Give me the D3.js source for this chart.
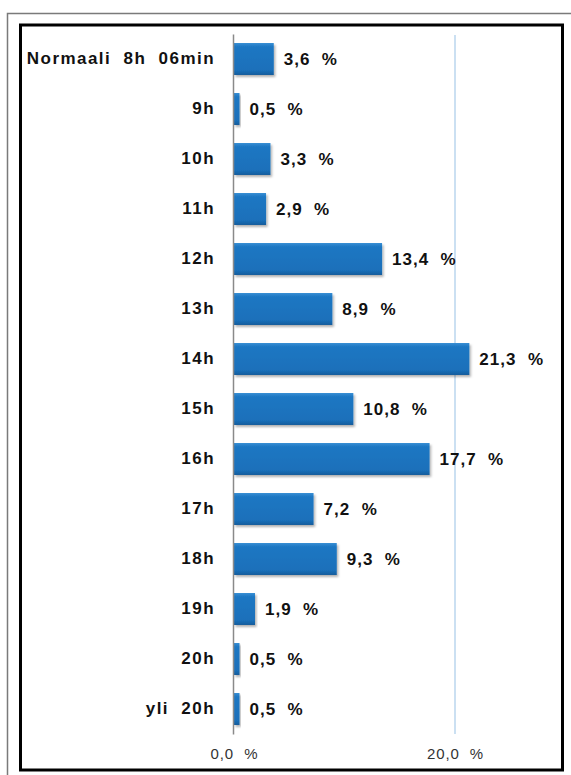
<!DOCTYPE html>
<html>
<head>
<meta charset="utf-8">
<script src="https://cdn.jsdelivr.net/npm/d3@7"></script>
<style>
  html, body { margin: 0; padding: 0; background: #fff; }
  svg { display: block; }
  text { font-family: "Liberation Sans", Arial, sans-serif; }
</style>
</head>
<body>
<svg id="chart" width="571" height="775"></svg>
<script>
// Sleep-length categories and share of respondents (%)
const categories = ["Normaali  8h  06min", "9h", "10h", "11h", "12h", "13h", "14h",
  "15h", "16h", "17h", "18h", "19h", "20h", "yli  20h"];
const values = [3.6, 0.5, 3.3, 2.9, 13.4, 8.9, 21.3, 10.8, 17.7, 7.2, 9.3, 1.9, 0.5, 0.5];
const tickValues = [0, 20];

const fmt = v => d3.format(".1f")(v).replace(".", ",") + "  %";

const svg = d3.select("#chart");

// frames
svg.append("path")
  .attr("d", "M7.5,775 V13.5 H571")
  .attr("fill", "none").attr("stroke", "#7a7a7a").attr("stroke-width", 1.5);
svg.append("rect")
  .attr("x", 20.5).attr("y", 25).attr("width", 542).attr("height", 745)
  .attr("fill", "#fff").attr("stroke", "#000").attr("stroke-width", 3);

const defs = svg.append("defs");
const grad = defs.append("linearGradient").attr("id", "barFill")
  .attr("x1", 0).attr("y1", 0).attr("x2", 0).attr("y2", 1);
grad.append("stop").attr("offset", "0%").attr("stop-color", "#3a8fd4");
grad.append("stop").attr("offset", "12%").attr("stop-color", "#1d77c3");
grad.append("stop").attr("offset", "85%").attr("stop-color", "#1a70ba");
grad.append("stop").attr("offset", "100%").attr("stop-color", "#145c9c");
const shadow = defs.append("filter").attr("id", "barShadow")
  .attr("x", "-5%").attr("y", "-10%").attr("width", "115%").attr("height", "140%");
shadow.append("feDropShadow").attr("dx", 1.5).attr("dy", 2).attr("stdDeviation", 1.2)
  .attr("flood-color", "#000").attr("flood-opacity", 0.3);

const x = d3.scaleLinear().domain([0, 20]).range([234, 455]);
const y = d3.scaleBand().domain(categories).range([34, 734])
  .paddingInner(0.36).paddingOuter(0.18);

// gridline at 20 %
svg.append("g").selectAll("line").data(tickValues.filter(d => d > 0)).join("line")
  .attr("x1", d => x(d)).attr("x2", d => x(d))
  .attr("y1", 35).attr("y2", 734)
  .attr("stroke", "#a8cbe9").attr("stroke-width", 1.2);

// bars
svg.append("g").selectAll("rect").data(values).join("rect")
  .attr("x", x(0))
  .attr("y", (d, i) => y(categories[i]))
  .attr("width", d => x(d) - x(0))
  .attr("height", y.bandwidth())
  .attr("fill", "url(#barFill)")
  .attr("filter", "url(#barShadow)");

// category axis
const yAxis = svg.append("g")
  .attr("transform", `translate(${x(0) - 1},0)`)
  .call(d3.axisLeft(y).tickSize(0).tickSizeOuter(0).tickPadding(18));
yAxis.select(".domain").attr("stroke", "#8a8a8a").attr("stroke-width", 1.5);
yAxis.selectAll("text")
  .attr("font-size", 17).attr("font-weight", "bold").attr("fill", "#111")
  .attr("letter-spacing", 1.45)
  .style("white-space", "pre")
  .attr("font-family", "Liberation Sans, Arial, sans-serif");

// value labels
svg.append("g").selectAll("text").data(values).join("text")
  .attr("x", d => x(d) + 10)
  .attr("y", (d, i) => y(categories[i]) + y.bandwidth() / 2)
  .attr("dy", "0.36em")
  .attr("font-size", 17).attr("font-weight", "bold").attr("fill", "#111")
  .attr("letter-spacing", 1)
  .style("white-space", "pre")
  .text(d => fmt(d));

// value axis
const xAxis = svg.append("g")
  .attr("transform", "translate(0,744)")
  .call(d3.axisBottom(x).tickValues(tickValues).tickSize(0).tickPadding(4)
    .tickFormat(d => d3.format(".1f")(d).replace(".", ",") + "  %"));
xAxis.select(".domain").remove();
xAxis.selectAll("text")
  .attr("font-size", 15).attr("fill", "#333")
  .attr("letter-spacing", 0.9)
  .style("white-space", "pre")
  .attr("font-family", "Liberation Sans, Arial, sans-serif");
</script>
</body>
</html>
